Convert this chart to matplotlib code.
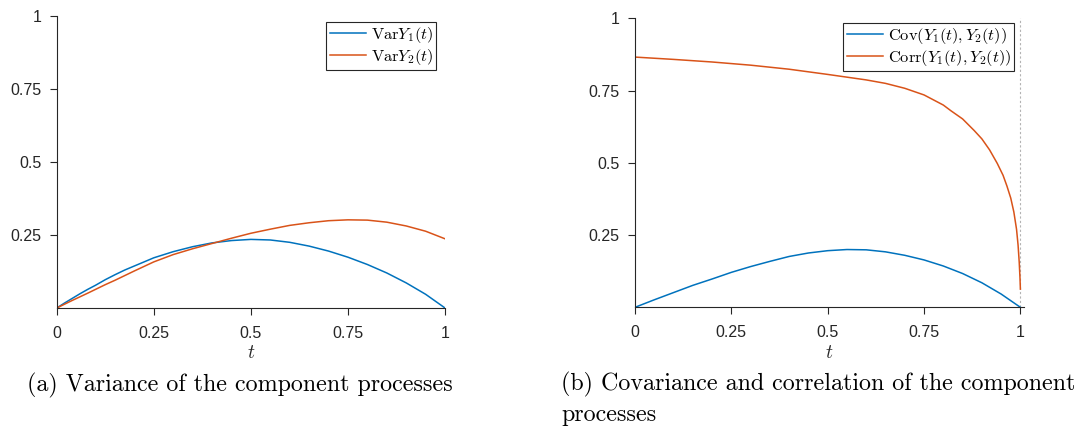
#%%imports
import matplotlib
matplotlib.use("Agg")
import matplotlib.pyplot as plt
import numpy as np

plt.rcParams["font.family"] = ["Liberation Sans", "DejaVu Sans"]
plt.rcParams["mathtext.fontset"] = "cm"

#%%data
##left panel: variances
t_var   = [0.0, 0.02, 0.04, 0.06, 0.08, 0.1, 0.125, 0.15, 0.175, 0.2, 0.25, 0.3, 0.35, 0.4, 0.45, 0.5,
           0.55, 0.6, 0.65, 0.7, 0.75, 0.8, 0.85, 0.9, 0.95, 1.0]
var_y1  = [0.0, 0.017, 0.033, 0.049, 0.064, 0.078, 0.097, 0.114, 0.130, 0.144, 0.172, 0.193, 0.210, 0.223, 0.231, 0.235,
           0.233, 0.225, 0.212, 0.195, 0.174, 0.149, 0.120, 0.086, 0.047, 0.0]
t_var2  = [0.0, 0.04, 0.08, 0.125, 0.15, 0.2, 0.25, 0.3, 0.35, 0.4, 0.45, 0.5, 0.55, 0.6, 0.65,
           0.7, 0.75, 0.8, 0.85, 0.9, 0.95, 1.0]
var_y2  = [0.0, 0.026, 0.051, 0.080, 0.095, 0.127, 0.158, 0.183, 0.203, 0.221, 0.239, 0.256, 0.270, 0.283, 0.292,
           0.299, 0.302, 0.301, 0.294, 0.281, 0.263, 0.237]

##right panel: covariance and correlation
t_cov   = [0.0, 0.05, 0.1, 0.15, 0.2, 0.25, 0.3, 0.35, 0.4, 0.45, 0.5, 0.55, 0.6, 0.65,
           0.7, 0.75, 0.8, 0.85, 0.9, 0.95, 1.0]
cov_y   = [0.0, 0.026, 0.051, 0.076, 0.098, 0.121, 0.141, 0.159, 0.176, 0.188, 0.196, 0.200, 0.199, 0.192,
           0.180, 0.164, 0.143, 0.117, 0.085, 0.046, 0.0]
t_corr  = [0.0, 0.1, 0.2, 0.3, 0.4, 0.5, 0.6, 0.65, 0.7, 0.75, 0.8, 0.82, 0.85, 0.88, 0.9, 0.92, 0.94,
           0.955, 0.965, 0.975, 0.983, 0.99, 0.994, 0.997, 0.999, 1.0]
corr_y  = [0.866, 0.858, 0.849, 0.838, 0.824, 0.806, 0.787, 0.775, 0.758, 0.735, 0.700, 0.680, 0.652, 0.612,
           0.583, 0.545, 0.498, 0.457, 0.420, 0.378, 0.330, 0.270, 0.215, 0.155, 0.100, 0.063]

xticks      = [0, 0.25, 0.5, 0.75, 1]
xticklabels = ["0", "0.25", "0.5", "0.75", "1"]
yticks      = [0.25, 0.5, 0.75, 1]
yticklabels = ["0.25", "0.5", "0.75", "1"]

captions = ["(a) Variance of the component processes",
            "(b) Covariance and correlation of the component\nprocesses"]

#%%definitions
BLUE   = "#0072BD"
ORANGE = "#D95319"
AXC    = (0.15, 0.15, 0.15)

def style_ax(ax:plt.Axes, xmax:float=1.0):
    """
        - helper to get the matlab-like look (box off, ticks out)
    """
    ax.set_xlim(0, xmax)
    ax.set_ylim(0, 1)
    ax.set_xticks(xticks, labels=xticklabels)
    ax.set_yticks(yticks, labels=yticklabels)
    for s in ["top", "right"]:
        ax.spines[s].set_visible(False)
    for s in ["left", "bottom"]:
        ax.spines[s].set_color(AXC)
        ax.spines[s].set_linewidth(0.8)
    ax.tick_params(direction="out", length=5, width=0.8, colors=AXC, labelsize=11.5)
    ax.tick_params(axis="x", pad=8)
    ax.tick_params(axis="y", pad=6)
    ax.set_xlabel(r"$t$", fontsize=14, color=AXC, labelpad=3)
    return

def add_legend(ax:plt.Axes, anchor):
    leg = ax.legend(loc="upper right", bbox_to_anchor=anchor, fontsize=11.8,
        frameon=True, fancybox=False, framealpha=1, edgecolor=AXC,
        handlelength=2.2, handletextpad=0.3, borderpad=0.2, labelspacing=0.12, borderaxespad=0)
    leg.get_frame().set_linewidth(0.8)
    return leg

#%%main
def main():
    fig = plt.figure(figsize=(10.81, 4.30), dpi=100)

    ax1 = fig.add_axes([0.0525, 0.2837, 0.3592, 0.679])
    ax1.plot(t_var, var_y1, c=BLUE, lw=1.1, label=r"$\mathrm{Var}Y_1(t)$")
    ax1.plot(t_var2, var_y2, c=ORANGE, lw=1.1, label=r"$\mathrm{Var}Y_2(t)$")
    style_ax(ax1, 1.0)
    add_legend(ax1, (0.977, 0.98))

    ax2 = fig.add_axes([0.5874, 0.2853, 0.3601, 0.672])
    ax2.axvline(1, ls=(0, (2, 2)), c=(0.7, 0.7, 0.7), lw=0.8)
    ax2.plot(t_cov, cov_y, c=BLUE, lw=1.1, label=r"$\mathrm{Cov}(Y_1(t),Y_2(t))$")
    ax2.plot(t_corr, corr_y, c=ORANGE, lw=1.1, label=r"$\mathrm{Corr}(Y_1(t),Y_2(t))$")
    style_ax(ax2, 1.01)
    add_legend(ax2, (0.974, 0.985))

    #captions below the panels
    fig.text(0.025, 0.089, captions[0], family="cmr10", fontsize=17.3, va="baseline", ha="left")
    fig.text(0.519, 0.091, captions[1].split("\n")[0], family="cmr10", fontsize=17.3, va="baseline", ha="left")
    fig.text(0.519, 0.022, captions[1].split("\n")[1], family="cmr10", fontsize=17.3, va="baseline", ha="left")

    fig.savefig("out.png", dpi=100)
    return

if __name__ == "__main__":
    main()
